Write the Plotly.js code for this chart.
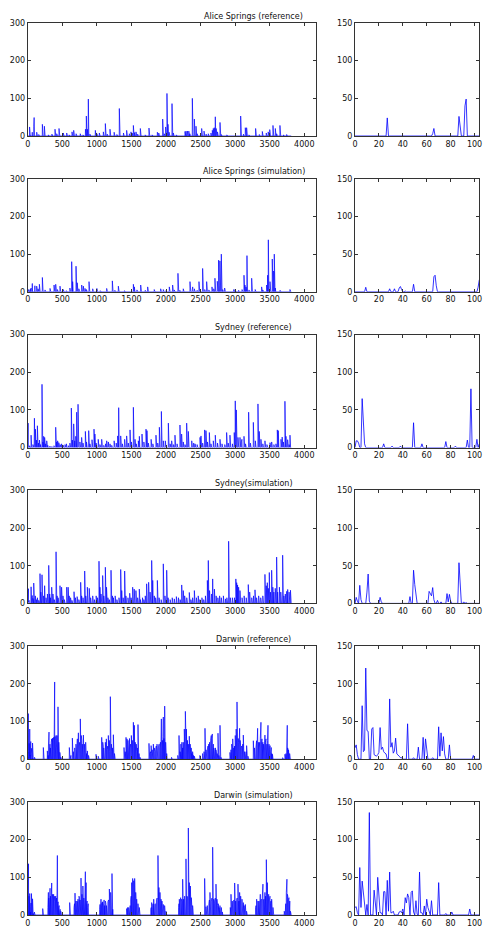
<!DOCTYPE html>
<html><head><meta charset="utf-8">
<script src="https://cdn.plot.ly/plotly-3.0.1.min.js"></script>
<style>html,body{margin:0;padding:0;background:#fff}#chart{width:487px;height:933px}</style>
</head><body><div id="chart"></div>
<script>
// ---------- DATA (daily rainfall, mm; days not listed are 0) ----------
const seriesLength = 3812;
const zoomDays = 105;
const panelTitles = ["Alice Springs (reference)", "Alice Springs (simulation)", "Sydney (reference)", "Sydney(simulation)", "Darwin (reference)", "Darwin (simulation)"];
const leftXTicks = [0,500,1000,1500,2000,2500,3000,3500,4000];
const leftYTicks = [0,100,200,300];
const rightXTicks = [0,20,40,60,80,100];
const rightYTicks = [0,50,100,150];

const aliceRefEvents = [[21,1],[27,24],[33,1],[41,1],[65,3],[66,10],[84,1],[87,26],[88,13],[92,40],[93,49],
[130,10],[160,4],[212,31],[241,26],[300,3],[350,5],[395,18],[420,6],[453,20],[515,8],[564,8],[600,3],[641,11],[665,15],[700,6],[760,6],[800,3],[835,18],[848,53],[862,18],[877,98],[900,5],[978,15],[1000,6],[1036,8],[1094,11],[1123,33],[1150,5],[1190,18],[1250,10],[1290,4],[1325,73],[1385,8],[1431,15],[1470,6],[1494,11],[1510,8],[1528,28],[1545,9],[1566,11],[1590,5],[1629,20],[1700,3],[1754,21],[1800,3],[1875,10],[1895,8],[1952,45],[1975,6],[1995,24],[2014,113],[2029,31],[2045,10],[2087,86],[2106,8],[2150,3],[2275,12],[2290,13],[2310,13],[2330,13],[2345,6],[2381,100],[2410,45],[2434,26],[2450,6],[2516,20],[2550,13],[2580,5],[2612,6],[2650,8],[2670,15],[2684,20],[2698,22],[2713,51],[2725,20],[2745,11],[2781,36],[2800,4],[2880,3],[2950,2],[3080,53],[3120,5],[3147,22],[3166,22],[3200,3],[3296,20],[3350,4],[3393,12],[3450,8],[3478,11],[3500,17],[3547,28],[3581,20],[3600,6],[3648,28],[3700,3],[3745,4]];

const aliceSimEvents = [[9,6],[21,1],[29,4],[33,4],[37,5],[38,7],[39,3],[42,1],[49,10],[66,20],[67,22],[68,8],[84,1],[98,1],[103,6],[104,16],
[130,15],[150,8],[169,20],[212,38],[250,5],[323,9],[381,18],[405,20],[430,6],[467,15],[515,6],[560,3],[610,10],[636,80],[650,27],[699,68],[716,24],[740,8],[781,18],[805,15],[829,9],[850,6],[887,27],[940,8],[1000,9],[1050,3],[1142,9],[1224,29],[1260,4],[1311,15],[1400,3],[1528,20],[1543,13],[1580,5],[1634,18],[1700,4],[1735,13],[1830,6],[1923,8],[1961,6],[2000,3],[2048,13],[2096,18],[2120,5],[2173,49],[2200,4],[2250,8],[2347,27],[2380,6],[2386,13],[2410,8],[2450,4],[2477,27],[2530,62],[2560,6],[2588,27],[2620,5],[2665,13],[2690,8],[2708,36],[2742,28],[2761,84],[2780,82],[2800,100],[2820,6],[2848,10],[2980,6],[3000,6],[3050,4],[3100,6],[3128,44],[3142,18],[3157,13],[3171,96],[3200,5],[3239,36],[3290,6],[3383,13],[3400,5],[3455,18],[3470,44],[3480,138],[3504,27],[3537,87],[3551,44],[3555,55],[3560,52],[3566,100],[3580,10],[3650,4],[3793,6]];

const sydneyRefEvents = [[1,9],[2,9],[3,6],[6,65],[7,30],[8,5],[24,5],[31,2],[38,2],[43,1],[49,33],[56,5],[63,1],[76,8],[84,2],[94,10],[97,78],[102,11],[104,5],
[111,49],[125,20],[140,58],[155,12],[170,20],[185,8],[207,168],[220,15],[231,30],[245,27],[260,10],[275,18],[290,6],[320,4],[350,3],[380,5],[405,54],[420,15],[433,18],[450,13],[470,8],[490,10],[515,6],[540,8],[560,10],[590,5],[610,12],[631,105],[645,20],[665,63],[680,18],[695,30],[708,94],[728,115],[738,58],[755,15],[780,27],[800,12],[834,43],[850,15],[882,45],[900,10],[930,21],[959,49],[972,36],[990,12],[1020,22],[1045,8],[1070,22],[1100,6],[1125,10],[1142,18],[1166,15],[1190,10],[1215,6],[1250,18],[1280,12],[1301,31],[1316,106],[1345,31],[1370,10],[1402,22],[1431,31],[1455,12],[1480,47],[1500,15],[1528,107],[1552,22],[1570,10],[1600,18],[1615,30],[1653,36],[1680,15],[1711,49],[1725,45],[1745,12],[1785,22],[1810,10],[1855,33],[1880,12],[1904,54],[1933,96],[1961,18],[1990,18],[2034,65],[2060,10],[2082,18],[2110,8],[2130,33],[2160,10],[2202,60],[2226,36],[2250,15],[2275,8],[2299,65],[2323,43],[2372,18],[2400,12],[2420,10],[2450,8],[2492,27],[2506,31],[2530,12],[2559,47],[2578,45],[2600,15],[2627,40],[2650,10],[2684,18],[2713,33],[2745,12],[2781,22],[2810,10],[2850,8],[2877,40],[2900,12],[2925,33],[2960,10],[2987,40],[3002,124],[3017,100],[3041,27],[3070,27],[3090,15],[3098,22],[3128,30],[3150,10],[3195,94],[3220,12],[3263,67],[3292,18],[3330,116],[3349,43],[3373,22],[3400,10],[3431,18],[3460,8],[3504,13],[3528,15],[3560,8],[3590,10],[3610,47],[3624,45],[3663,22],[3680,28],[3697,15],[3720,123],[3735,30],[3759,21],[3780,8],[3793,33]];

const sydneySimEvents = [[1,8],[2,3],[4,24],[5,5],[10,15],[11,39],[12,3],[21,8],[22,2],[46,9],[49,44],[50,25],[51,13],[62,16],[63,12],[64,10],[65,21],[66,5],[69,4],[72,2],[77,13],[78,2],[79,12],[80,3],[84,1],[87,54],[88,20],[91,2],[93,1],
[110,20],[125,10],[140,15],[160,8],[178,79],[190,30],[207,76],[215,43],[230,20],[245,47],[265,15],[285,25],[304,101],[318,25],[330,15],[347,43],[365,25],[385,10],[410,137],[425,20],[440,15],[467,47],[490,43],[510,20],[530,10],[564,43],[585,43],[600,20],[620,15],[640,8],[670,31],[690,15],[715,18],[740,10],[766,56],[780,20],[800,15],[824,86],[840,20],[863,43],[890,40],[910,15],[940,20],[965,10],[990,20],[1010,15],[1031,112],[1045,43],[1060,25],[1084,74],[1100,20],[1123,96],[1140,43],[1160,15],[1180,10],[1205,88],[1225,20],[1240,15],[1265,20],[1290,10],[1320,15],[1345,90],[1360,34],[1380,15],[1402,86],[1420,20],[1450,15],[1475,27],[1495,15],[1518,43],[1540,38],[1565,34],[1590,15],[1614,38],[1630,10],[1660,15],[1680,10],[1700,20],[1720,52],[1749,56],[1770,30],[1793,114],[1808,61],[1830,20],[1850,15],[1875,61],[1900,15],[1930,10],[1961,105],[1985,20],[2010,88],[2030,15],[2060,10],[2090,15],[2120,12],[2150,18],[2180,15],[2205,10],[2227,49],[2250,34],[2270,20],[2300,15],[2337,29],[2360,10],[2385,15],[2410,34],[2440,15],[2466,20],[2490,10],[2520,15],[2545,10],[2570,20],[2598,61],[2612,114],[2630,34],[2660,25],[2675,65],[2700,38],[2725,20],[2750,15],[2775,20],[2800,15],[2830,20],[2860,12],[2880,15],[2906,165],[2930,15],[2960,15],[2990,15],[3010,65],[3022,55],[3035,49],[3050,43],[3070,34],[3100,15],[3130,20],[3160,15],[3190,50],[3210,30],[3240,15],[3265,20],[3287,36],[3310,15],[3340,20],[3370,15],[3400,20],[3431,77],[3450,47],[3465,55],[3480,40],[3494,82],[3510,30],[3528,88],[3545,43],[3560,30],[3580,40],[3600,123],[3615,30],[3640,43],[3660,30],[3687,128],[3705,20],[3725,25],[3745,32],[3760,37],[3780,30],[3800,35]];

const darwinRefEvents = [[0,15],[1,19],[2,6],[6,71],[7,10],[8,12],[9,121],[10,38],[11,37],[14,40],[15,42],[16,6],[17,5],[18,4],[19,6],[20,9],[21,42],[22,13],[23,16],[24,10],[25,8],[26,7],[29,80],[30,16],[31,22],[32,8],[33,11],[34,28],[35,7],[36,6],[37,4],[38,2],[39,2],[44,47],[49,2],[53,16],[57,29],[59,27],[60,9],[65,2],[70,43],[71,4],[72,35],[73,11],[74,30],[75,7],[79,19],[84,1],[99,5],
[226,31],[284,22],[290,15],[295,10],[300,35],[308,72],[315,20],[322,40],[328,30],[335,25],[340,45],[347,54],[353,35],[360,56],[368,50],[375,58],[382,40],[390,205],[395,60],[400,30],[405,45],[410,63],[418,30],[425,63],[432,50],[438,139],[444,25],[450,45],[458,15],[465,18],[470,8],[480,5],
[602,31],[615,5],[625,10],[646,56],[660,20],[680,30],[690,15],[698,40],[710,25],[718,54],[728,30],[733,70],[745,35],[752,45],[761,107],[768,30],[775,63],[783,50],[790,40],[798,30],[805,64],[812,25],[820,40],[828,20],[838,45],[845,20],[852,15],[863,22],[880,10],
[988,13],[1020,8],[1070,58],[1078,20],[1085,45],[1093,35],[1100,30],[1110,20],[1123,45],[1130,15],[1137,54],[1150,25],[1158,35],[1166,63],[1173,30],[1180,50],[1188,20],[1195,166],[1202,35],[1210,40],[1218,20],[1225,30],[1232,25],[1239,65],[1247,10],[1255,15],
[1393,31],[1400,10],[1410,20],[1422,58],[1428,35],[1436,54],[1443,25],[1450,50],[1458,30],[1465,40],[1472,55],[1480,30],[1488,40],[1499,63],[1506,35],[1513,50],[1520,45],[1528,98],[1535,60],[1542,90],[1548,30],[1555,45],[1562,25],[1570,40],[1578,20],[1585,30],[1595,92],[1602,20],[1610,15],[1625,5],
[1754,42],[1762,10],[1770,15],[1778,20],[1785,36],[1793,15],[1800,25],[1808,20],[1817,40],[1824,35],[1830,30],[1840,20],[1850,25],[1860,35],[1870,40],[1880,25],[1890,30],[1900,40],[1910,30],[1920,45],[1927,35],[1933,107],[1940,40],[1948,50],[1955,60],[1961,112],[1970,55],[1981,141],[1988,30],[1995,45],[2003,10],[2010,15],[2080,5],
[2170,10],[2188,63],[2196,30],[2205,20],[2215,40],[2222,25],[2230,45],[2240,30],[2250,45],[2258,35],[2265,80],[2272,55],[2280,127],[2288,60],[2295,80],[2302,45],[2310,50],[2316,30],[2323,40],[2330,35],[2337,61],[2344,25],[2350,40],[2358,25],[2365,30],[2375,15],[2385,20],[2398,10],[2410,8],
[2490,10],[2530,15],[2550,20],[2564,82],[2572,20],[2580,25],[2590,15],[2600,30],[2608,35],[2617,40],[2624,30],[2630,45],[2638,35],[2645,50],[2650,40],[2655,63],[2662,55],[2670,67],[2677,35],[2685,40],[2692,30],[2700,25],[2708,20],[2715,30],[2722,25],[2730,20],[2740,15],[2752,69],[2765,10],[2781,90],[2795,5],
[2925,18],[2940,25],[2950,40],[2958,30],[2965,54],[2972,40],[2980,30],[2990,35],[3002,63],[3008,45],[3015,80],[3022,55],[3027,152],[3034,35],[3040,45],[3045,55],[3050,45],[3058,40],[3065,82],[3072,50],[3080,35],[3088,30],[3095,35],[3102,25],[3110,40],[3118,64],[3126,30],[3135,20],[3142,15],[3150,10],[3158,20],[3166,36],[3185,8],
[3263,49],[3270,20],[3280,30],[3290,20],[3300,30],[3310,49],[3318,40],[3325,82],[3332,35],[3340,45],[3348,30],[3355,45],[3364,55],[3373,98],[3380,40],[3388,54],[3394,35],[3400,45],[3408,40],[3415,30],[3422,25],[3431,64],[3438,45],[3446,54],[3452,30],[3460,40],[3468,50],[3475,90],[3482,35],[3490,40],[3498,25],[3505,36],[3515,20],[3523,31],[3530,15],[3540,13],
[3687,4],[3720,13],[3735,15],[3745,20],[3754,90],[3760,30],[3765,27],[3772,25],[3780,22],[3788,15],[3795,10]];

const darwinSimEvents = [[0,10],[1,11],[2,3],[4,63],[5,10],[6,45],[7,30],[8,8],[10,14],[12,136],[16,33],[17,12],[19,50],[20,22],[21,3],[22,3],[24,31],[25,31],[27,46],[28,5],[29,57],[30,3],[31,3],[32,5],[37,4],[38,5],[39,3],[40,8],[42,23],[43,16],[44,28],[45,23],[47,30],[48,32],[49,4],[51,19],[52,1],[54,57],[55,3],[56,3],[58,12],[60,21],[61,10],[62,3],[64,19],[70,43],[76,2],[81,4],[96,8],
[217,17],[292,20],[299,60],[305,45],[310,30],[316,35],[323,71],[329,50],[335,40],[341,45],[347,85],[353,40],[360,55],[368,45],[375,55],[382,35],[390,50],[397,40],[405,50],[411,30],[418,45],[423,35],[429,158],[435,30],[440,35],[447,20],[455,25],[462,15],[470,15],[478,10],[485,8],
[607,33],[670,20],[677,30],[684,58],[691,25],[698,37],[705,30],[712,37],[720,35],[727,42],[735,25],[742,50],[750,45],[757,40],[764,30],[771,98],[778,35],[785,55],[791,40],[798,77],[805,35],[812,45],[818,30],[825,40],[834,115],[840,40],[845,86],[852,30],[860,37],[868,20],[875,30],
[1040,15],[1046,28],[1053,20],[1060,42],[1068,25],[1075,33],[1082,35],[1090,20],[1098,30],[1105,40],[1113,25],[1123,37],[1131,30],[1140,25],[1150,20],[1160,35],[1170,40],[1181,69],[1190,30],[1200,60],[1210,40],[1219,110],[1230,15],
[1431,17],[1438,10],[1445,20],[1452,15],[1460,20],[1468,10],[1475,20],[1482,25],[1490,40],[1497,50],[1504,86],[1511,60],[1518,97],[1525,70],[1533,91],[1540,55],[1547,97],[1555,45],[1562,60],[1569,35],[1576,42],[1585,25],[1595,30],[1605,15],[1614,20],
[1780,15],[1787,20],[1793,33],[1802,15],[1810,28],[1816,30],[1822,42],[1830,35],[1840,28],[1850,30],[1862,40],[1872,45],[1884,158],[1891,55],[1898,73],[1905,45],[1913,60],[1920,50],[1928,42],[1935,30],[1942,37],[1950,35],[1961,28],[1970,20],[1980,25],[1990,15],[2000,10],
[2183,20],[2188,30],[2193,42],[2200,35],[2212,46],[2219,30],[2226,42],[2234,35],[2241,95],[2248,30],[2255,42],[2262,40],[2270,50],[2280,45],[2289,149],[2296,40],[2304,50],[2312,45],[2323,231],[2330,55],[2337,86],[2344,50],[2352,77],[2359,40],[2366,46],[2375,20],[2385,25],
[2559,97],[2568,20],[2578,22],[2588,15],[2597,25],[2607,20],[2620,30],[2628,40],[2636,60],[2645,35],[2655,37],[2665,45],[2675,180],[2682,35],[2690,42],[2697,30],[2704,37],[2713,45],[2723,82],[2730,35],[2737,42],[2746,25],[2756,30],[2768,20],[2780,25],[2790,15],[2800,20],[2815,8],
[2930,20],[2940,55],[2948,30],[2958,37],[2966,30],[2975,37],[2984,40],[2993,85],[3000,45],[3007,37],[3014,30],[3022,42],[3030,45],[3041,82],[3048,40],[3055,37],[3060,35],[3065,60],[3072,40],[3080,50],[3090,30],[3099,42],[3108,25],[3118,33],[3130,25],[3147,28],[3156,15],[3165,10],
[3295,20],[3303,25],[3311,42],[3320,30],[3330,37],[3338,25],[3345,37],[3355,35],[3364,55],[3373,40],[3383,42],[3392,45],[3402,82],[3410,40],[3417,42],[3424,45],[3431,60],[3440,50],[3451,147],[3458,60],[3465,86],[3475,45],[3485,55],[3495,40],[3504,50],[3511,30],[3518,37],[3528,42],[3538,25],[3547,20],
[3710,10],[3725,20],[3732,30],[3740,60],[3749,95],[3755,55],[3762,50],[3770,40],[3778,46],[3785,30],[3790,37],[3800,10]];

const panelEvents = [aliceRefEvents, aliceSimEvents, sydneyRefEvents, sydneySimEvents, darwinRefEvents, darwinSimEvents];

// ---------- BUILD ----------
function buildSeries(events){
  const y = new Array(seriesLength).fill(0);
  events.forEach(([d,v]) => { y[d] = v; });
  return y;
}
const W = 487, H = 933;
const leftPx = [27.7, 315.7], rightPx = [355, 479.3];
const rowTop0 = 23, rowStep = 155.8, rowH = 113;
const fx = p => p / W, fy = p => 1 - p / H;

const traces = [], layout = {
  width: W, height: H, margin: {l:0, r:0, t:0, b:0},
  paper_bgcolor: '#fff', plot_bgcolor: '#fff', showlegend: false,
  font: {family: 'DejaVu Sans', size: 8, color: '#000'},
  annotations: []
};
const axCommon = {
  showline: true, linecolor: '#333', linewidth: 1, mirror: 'ticks',
  ticks: 'inside', ticklen: 3, tickwidth: 1, tickcolor: '#333',
  showgrid: false, zeroline: false, fixedrange: true,
  tickfont: {family: 'DejaVu Sans', size: 8, color: '#111'}
};
panelEvents.forEach((ev, i) => {
  const y = buildSeries(ev);
  const x = y.map((_, k) => k);
  const top = rowTop0 + rowStep * i, bot = top + rowH;
  const li = 2*i + 1, ri = 2*i + 2;
  const sfx = n => (n === 1 ? '' : String(n));
  traces.push({x: x, y: y, type: 'scatter', mode: 'lines', xaxis: 'x' + sfx(li), yaxis: 'y' + sfx(li),
    line: {color: '#0000ff', width: 0.7}, hoverinfo: 'skip'});
  traces.push({x: x.slice(0, zoomDays), y: y.slice(0, zoomDays), type: 'scatter', mode: 'lines',
    xaxis: 'x' + sfx(ri), yaxis: 'y' + sfx(ri), line: {color: '#0000ff', width: 0.8}, hoverinfo: 'skip'});
  layout['xaxis' + sfx(li)] = Object.assign({}, axCommon, {domain: [fx(leftPx[0]), fx(leftPx[1])], range: [0, 4165],
    tickvals: leftXTicks, anchor: 'y' + sfx(li)});
  layout['yaxis' + sfx(li)] = Object.assign({}, axCommon, {domain: [fy(bot), fy(top)], range: [0, 300],
    tickvals: leftYTicks, anchor: 'x' + sfx(li)});
  layout['xaxis' + sfx(ri)] = Object.assign({}, axCommon, {domain: [fx(rightPx[0]), fx(rightPx[1])], range: [0, 104],
    tickvals: rightXTicks, anchor: 'y' + sfx(ri)});
  layout['yaxis' + sfx(ri)] = Object.assign({}, axCommon, {domain: [fy(bot), fy(top)], range: [0, 150],
    tickvals: rightYTicks, anchor: 'x' + sfx(ri)});
  layout.annotations.push({text: panelTitles[i], xref: 'paper', yref: 'paper', x: fx(254), y: fy(top - 7),
    xanchor: 'center', yanchor: 'middle', showarrow: false, font: {family: 'DejaVu Sans', size: 8, color: '#111'}});
});
Plotly.newPlot('chart', traces, layout, {staticPlot: true, displayModeBar: false});
</script></body></html>
